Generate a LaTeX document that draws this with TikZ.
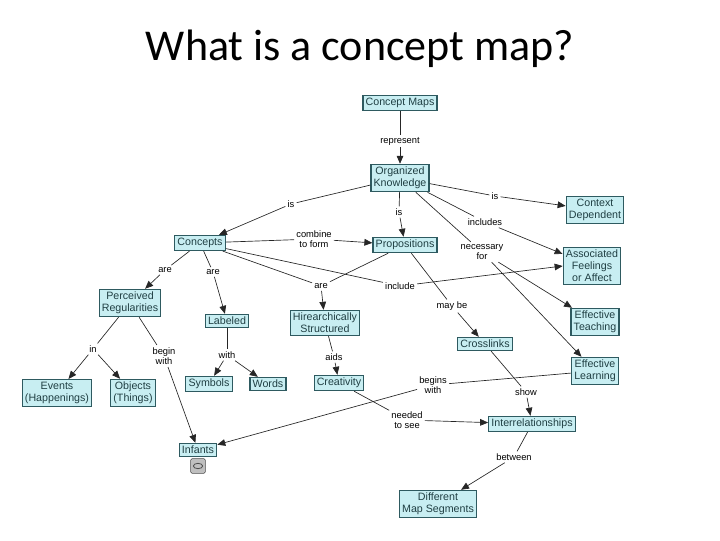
\documentclass[tikz,border=0pt]{standalone}
\usepackage{fontspec}
\setmainfont{Liberation Sans}
\newfontfamily\titlefont{Carlito}
\usetikzlibrary{arrows.meta}
\definecolor{boxfill}{HTML}{C8EEF2}
\definecolor{boxline}{HTML}{2E5A60}
\begin{document}
\begin{tikzpicture}[x=0.75pt,y=-0.75pt,
  cbox/.style={draw=boxline,fill=boxfill,line width=0.9pt,inner sep=2pt,align=center,font=\fontsize{8}{9}\selectfont,text=boxline!70!black},
  lbl/.style={inner sep=1.5pt,align=center,font=\fontsize{7}{8}\selectfont},
  ln/.style={draw=black!85,line width=0.5pt},
  ar/.style={ln,-{Triangle[length=6pt,width=5pt]}}]
\useasboundingbox (0,0) rectangle (720,540);
\node (title) at (360,49) {\titlefont\fontsize{33}{38}\selectfont What is a concept map?};
\node[cbox] (cm) at (400,103) {Concept Maps};
\node[lbl] (rep) at (400,141) {represent};
\node[cbox] (ok) at (400,178) {Organized\\Knowledge};
\node[lbl] (isC) at (291,204) {is};
\node[cbox] (con) at (200,243) {Concepts};
\node[lbl] (isP) at (399,212) {is};
\node[cbox] (prop) at (405,245) {Propositions};
\node[lbl] (isCD) at (495,196) {is};
\node[cbox] (cd) at (595,210) {Context\\Dependent};
\node[lbl] (incl) at (485,222) {includes};
\node[cbox] (af) at (592,266) {Associated\\Feelings\\or Affect};
\node[lbl] (nec) at (482,252) {necessary\\for};
\node[cbox] (et) at (595,322) {Effective\\Teaching};
\node[cbox] (el) at (595,371) {Effective\\Learning};
\node[lbl] (comb) at (314,239) {combine\\to form};
\node[lbl] (include) at (400,286) {include};
\node[lbl] (areH) at (321,286) {are};
\node[cbox] (hier) at (325,323) {Hirearchically\\Structured};
\node[lbl] (areP) at (165,270) {are};
\node[cbox] (pr) at (130,303) {Perceived\\Regularities};
\node[lbl] (areL) at (213,272) {are};
\node[cbox] (lab) at (227,321) {Labeled};
\node[lbl] (in) at (93,349) {in};
\node[cbox] (ev) at (57,393) {Events\\(Happenings)};
\node[cbox] (ob) at (133,393) {Objects\\(Things)};
\node[lbl] (begin) at (164,356) {begin\\with};
\node[cbox] (inf) at (198,450) {Infants};
\node[lbl] (with) at (227,355) {with};
\node[cbox] (sym) at (209,384) {Symbols};
\node[cbox] (words) at (268,384) {Words};
\node[lbl] (aids) at (334,357) {aids};
\node[cbox] (cre) at (339,383) {Creativity};
\node[lbl] (need) at (407,420) {needed\\to see};
\node[cbox] (inter) at (532,424) {Interrelationships};
\node[lbl] (maybe) at (452,306) {may be};
\node[cbox] (cross) at (485,344) {Crosslinks};
\node[lbl] (show) at (526,392) {show};
\node[lbl] (bw) at (433,385) {begins\\with};
\node[lbl] (betw) at (514,457) {between};
\node[cbox] (dms) at (438,504) {Different\\Map Segments};
\node[draw=black!70,fill=black!25,rounded corners=1pt,minimum width=11pt,minimum height=11pt,inner sep=0pt] (icon) at (198,466) {};
\draw[black!70,line width=0.6pt] (icon.center) ellipse (3.5pt and 2pt);
% connectors
\draw[ln] (cm) -- (rep); \draw[ar] (rep) -- (ok);
\draw[ln] (ok) -- (isC); \draw[ar] (isC) -- (con);
\draw[ln] (ok) -- (isP); \draw[ar] (isP) -- (prop);
\draw[ln] (ok) -- (isCD); \draw[ar] (isCD) -- (cd);
\draw[ln] (ok) -- (incl); \draw[ar] (incl) -- (af);
\draw[ln] (ok) -- (nec); \draw[ar] (nec) -- (et); \draw[ar] (nec) -- (el);
\draw[ln] (con) -- (comb); \draw[ar] (comb) -- (prop);
\draw[ln] (con) -- (include); \draw[ar] (include) -- (af.west);
\draw[ln] (con) -- (areH); \draw[ln] (prop) -- (areH); \draw[ar] (areH) -- (hier);
\draw[ln] (con) -- (areP); \draw[ar] (areP) -- (pr);
\draw[ln] (con) -- (areL); \draw[ar] (areL) -- (lab);
\draw[ln] (pr) -- (in); \draw[ar] (in) -- (ev); \draw[ar] (in) -- (ob);
\draw[ln] (pr) -- (begin); \draw[ar] (begin) -- (inf);
\draw[ln] (lab) -- (with); \draw[ar] (with) -- (sym); \draw[ar] (with) -- (words);
\draw[ln] (hier) -- (aids); \draw[ar] (aids) -- (cre);
\draw[ln] (cre) -- (need); \draw[ar] (need) -- (inter);
\draw[ln] (prop) -- (maybe); \draw[ar] (maybe) -- (cross);
\draw[ln] (cross) -- (show); \draw[ar] (show) -- (inter);
\draw[ln] (el) -- (bw); \draw[ar] (bw) -- (inf);
\draw[ln] (inter) -- (betw); \draw[ar] (betw) -- (dms);
\end{tikzpicture}
\end{document}
